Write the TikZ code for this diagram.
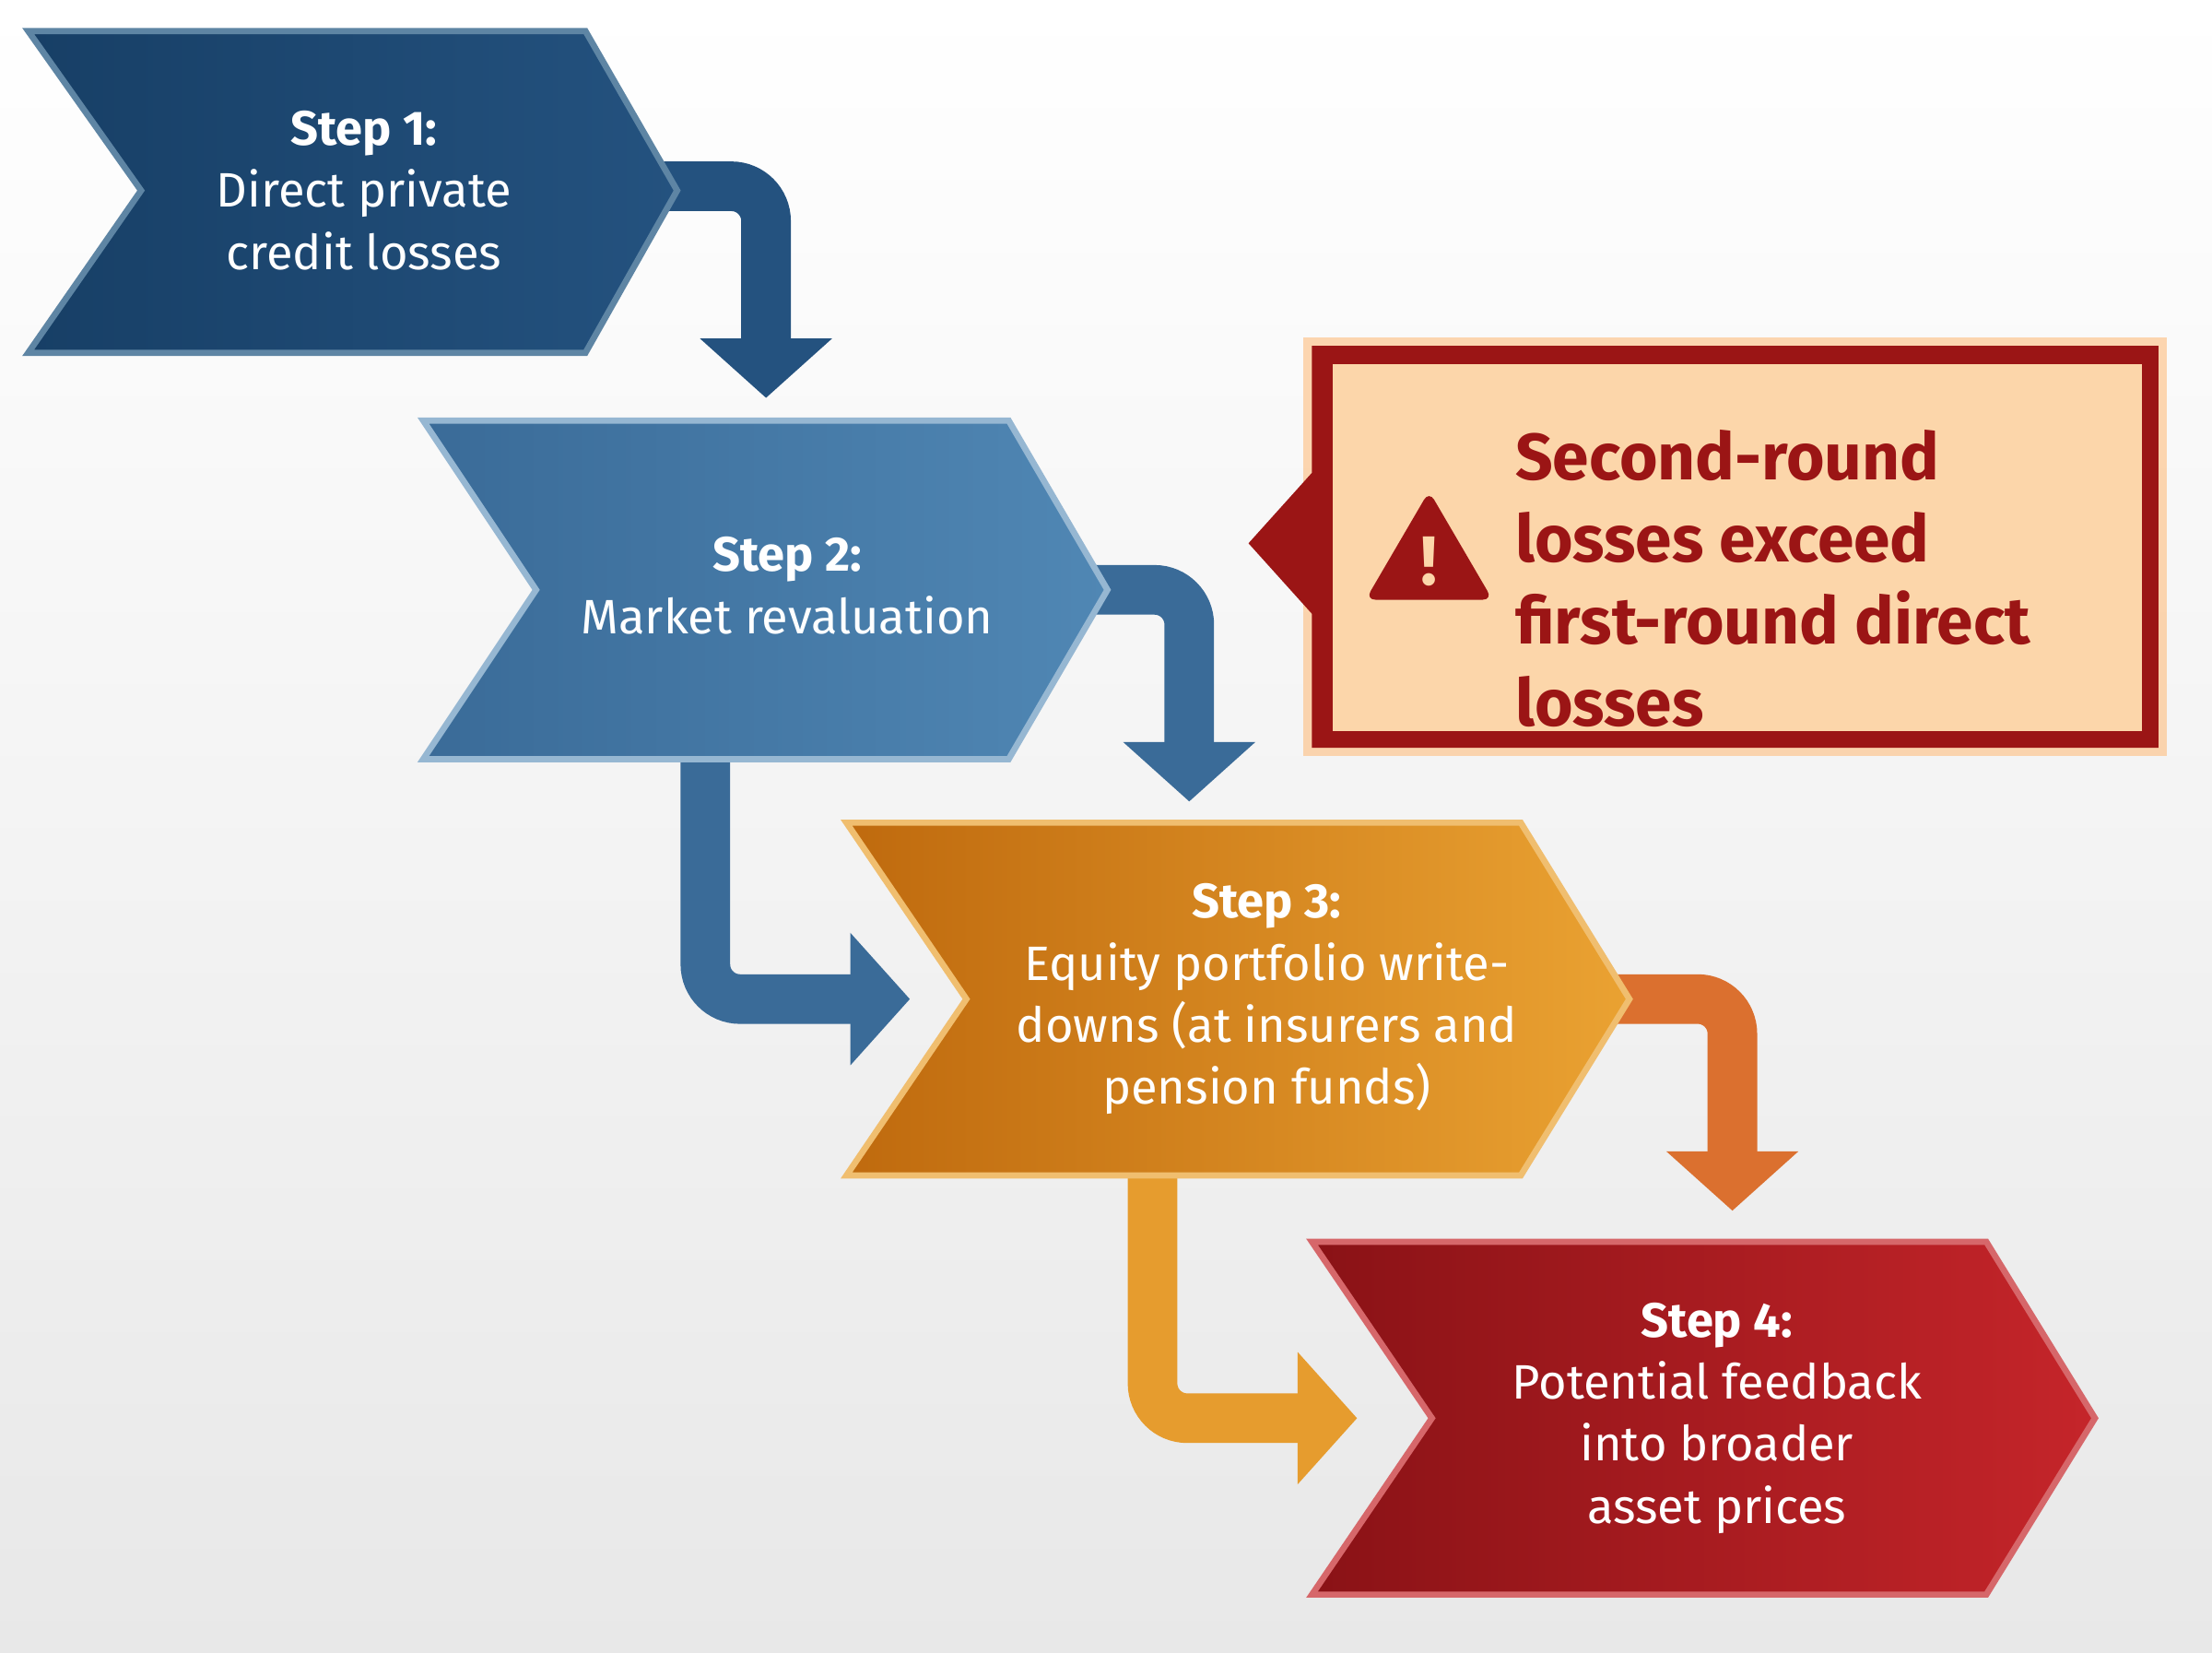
\documentclass[tikz,border=0pt]{standalone}
\usepackage{fontspec}
\setmainfont{Fira Sans}
\usetikzlibrary{arrows.meta,shapes.geometric}
\definecolor{navy}{HTML}{173F66}
\definecolor{navyB}{HTML}{24527F}
\definecolor{steel}{HTML}{3A6B98}
\definecolor{steelB}{HTML}{5087B4}
\definecolor{orgA}{HTML}{BF6A0E}
\definecolor{orgB}{HTML}{EAA232}
\definecolor{redA}{HTML}{8A1216}
\definecolor{redB}{HTML}{C5252A}
\definecolor{boxred}{HTML}{9B1515}
\definecolor{peach}{HTML}{FCD6AA}
\tikzset{
 x=0.02cm,y=-0.02cm,
 chev/.style={line width=2.5pt,line join=miter},
 lbl/.style={text=white,align=center,font=\fontsize{19.5}{25}\selectfont},
 flow/.style={line width=20pt,rounded corners=14pt,-{Triangle[length=24pt,width=52pt]}},
}
\begin{document}
\begin{tikzpicture}
\shade[top color=white,bottom color=gray!18] (0,0) rectangle (1568,1171);
\useasboundingbox (0,0) rectangle (1568,1171);
% arrows behind chevrons
\coordinate (a1s) at (460,132); \coordinate (a1e) at (543,282);
\draw[flow,navyB] (a1s) -| (a1e);
\coordinate (a2s) at (770,418); \coordinate (a2e) at (843,568);
\draw[flow,steel] (a2s) -| (a2e);
\coordinate (a3s) at (1140,708); \coordinate (a3e) at (1228,858);
\draw[flow,orgB!60!redB] (a3s) -| (a3e);
\coordinate (b2s) at (500,530); \coordinate (b2e) at (645,708);
\draw[flow,steel] (b2s) |- (b2e);
\coordinate (b3s) at (817,825); \coordinate (b3e) at (962,1005);
\draw[flow,orgB!90!orgA] (b3s) |- (b3e);
% chevrons
\shade[left color=navy,right color=navyB] (20,22)--(415,22)--(480,135)--(415,250)--(20,250)--(100,135)--cycle;
\draw[chev,steelB!70!gray] (20,22)--(415,22)--(480,135)--(415,250)--(20,250)--(100,135)--cycle;
\node[lbl] (s1) at (258,135) {\textbf{Step 1:}\\Direct private\\credit losses};
\shade[left color=steel,right color=steelB] (300,298)--(715,298)--(785,418)--(715,538)--(300,538)--(380,418)--cycle;
\draw[chev,steelB!60!white] (300,298)--(715,298)--(785,418)--(715,538)--(300,538)--(380,418)--cycle;
\node[lbl] (s2) at (558,415) {\textbf{Step 2:}\\Market revaluation};
\shade[left color=orgA,right color=orgB] (600,583)--(1078,583)--(1155,708)--(1078,833)--(600,833)--(685,708)--cycle;
\draw[chev,orgB!70!white] (600,583)--(1078,583)--(1155,708)--(1078,833)--(600,833)--(685,708)--cycle;
\node[lbl] (s3) at (898,708) {\textbf{Step 3:}\\Equity portfolio write-\\downs (at insurers and\\pension funds)};
\shade[left color=redA,right color=redB] (930,880)--(1408,880)--(1485,1005)--(1408,1130)--(930,1130)--(1015,1005)--cycle;
\draw[chev,redB!70!white] (930,880)--(1408,880)--(1485,1005)--(1408,1130)--(930,1130)--(1015,1005)--cycle;
\node[lbl] (s4) at (1217,1005) {\textbf{Step 4:}\\Potential feedback\\into broader\\asset prices};
% callout
\fill[orange!60,opacity=0.5] (924,239) rectangle (1536,536);
\fill[boxred] (930,245)--(1530,245)--(1530,530)--(930,530)--(930,435)--(885,385)--(930,335)--cycle;
\fill[peach] (945,258) rectangle (1518,518);
\fill[boxred,rounded corners=4pt] (1013,348)--(1058,425)--(968,425)--cycle;
\coordinate (warn) at (1013,392);
\node[text=peach,font=\fontsize{28}{28}\selectfont\bfseries] at (1013,398) {!};
\node[text=boxred,anchor=west,align=left,font=\fontsize{26.5}{33}\selectfont\bfseries] (msg) at (1068,410) {Second-round\\losses exceed\\first-round direct\\losses};
\end{tikzpicture}
\end{document}
